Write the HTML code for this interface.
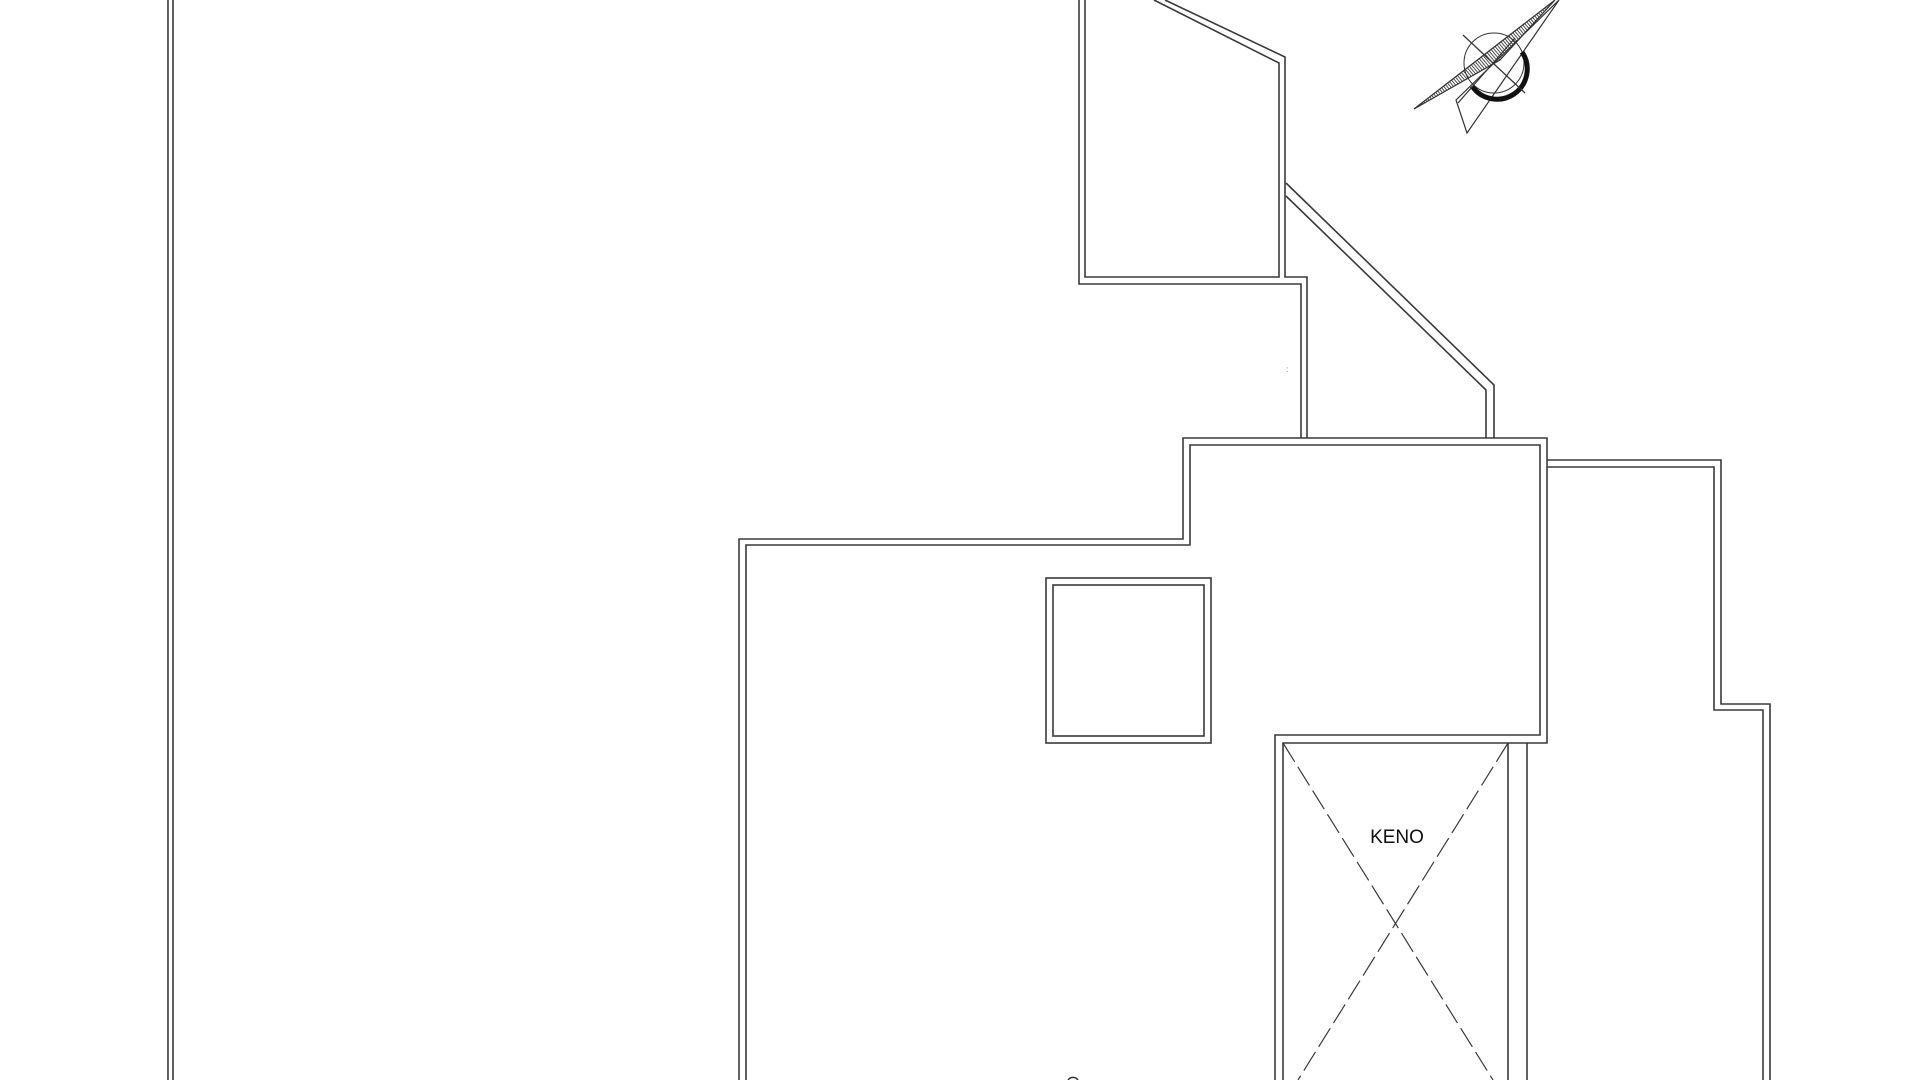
<!DOCTYPE html>
<html><head><meta charset="utf-8"><style>
html,body{margin:0;padding:0;background:#fff;width:1920px;height:1080px;overflow:hidden}
svg{display:block}
</style></head><body>
<svg width="1920" height="1080" viewBox="0 0 1920 1080" xmlns="http://www.w3.org/2000/svg">
<defs>
<pattern id="h" width="2.5" height="2.5" patternUnits="userSpaceOnUse" patternTransform="rotate(-40)">
<line x1="0" y1="0" x2="0" y2="2.5" stroke="#222" stroke-width="1.6"/>
</pattern>
</defs>
<g fill="none" stroke="#3a3a3a" stroke-width="1.6" stroke-linejoin="miter">
<line x1="168" y1="0" x2="168" y2="1080"/>
<line x1="173" y1="0" x2="173" y2="1080"/>
<polyline points="1165,0 1285,57 1285,277 1307,277 1307,438"/>
<polyline points="1154,0 1279,63 1279,277 1085,277 1085,0"/>
<polyline points="1079,0 1079,284 1301,284 1301,438"/>
<polyline points="1286,183 1494,385 1494,438"/>
<polyline points="1286,196 1486,390 1486,438"/>
<polyline points="739,1080 739,539 1183,539 1183,438 1547,438 1547,743 1283,743 1283,1080"/>
<polyline points="746,1080 746,545 1190,545 1190,445 1540,445 1540,735 1275,735 1275,1080"/>
<line x1="1508" y1="743" x2="1508" y2="1080"/>
<line x1="1527" y1="743" x2="1527" y2="1080"/>
<polyline points="1547,460 1721,460 1721,704 1770,704 1770,1080"/>
<polyline points="1547,467 1714,467 1714,710 1763,710 1763,1080"/>
<rect x="1046" y="578" width="165" height="165"/>
<rect x="1053" y="585" width="151" height="151"/>
<g stroke-dasharray="22,6" stroke-width="1.2">
<line x1="1283" y1="743" x2="1493" y2="1080"/>
<line x1="1508" y1="743" x2="1298" y2="1080"/>
</g>
</g>
<text x="1397" y="843" font-family="Liberation Sans, sans-serif" font-size="19" text-anchor="middle" fill="#111">KENO</text>
<text x="1286" y="372" font-family="Liberation Sans, sans-serif" font-size="8" fill="#666">:</text>
<g stroke="#333" stroke-width="1.2">
<polygon points="1414,109 1555,0 1500,60" fill="url(#h)"/>
<polygon points="1559,0 1467,133 1456,100" fill="none"/>
<circle cx="1494" cy="63" r="30" fill="none" stroke-width="1"/>
<path d="M 1522,52 A 30 30 0 0 1 1472,86" fill="none" stroke="#111" stroke-width="5"/>
<line x1="1463" y1="35" x2="1525" y2="93"/>
<line x1="1458" y1="103" x2="1515" y2="38"/>
</g>
<path d="M 1068,1080 A 6 6 0 0 1 1078,1080" fill="none" stroke="#333" stroke-width="1.5"/>
</svg>
</body></html>
